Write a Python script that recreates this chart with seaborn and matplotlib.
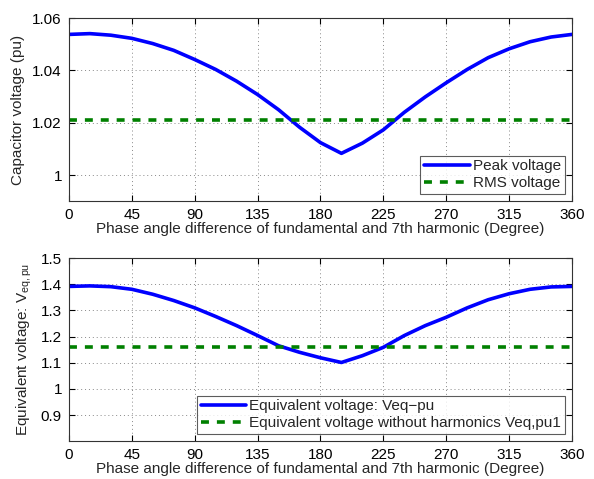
import numpy as np
import pandas as pd
import seaborn as sns
import matplotlib
matplotlib.use("Agg")
from matplotlib import pyplot as plt

# phase angle (deg) and values
angle = [0, 15, 30, 45, 60, 75, 90, 105, 120, 135, 150, 165, 180,
         195, 210, 225, 240, 255, 270, 285, 300, 315, 330, 345, 360]
peak_voltage = [1.0538, 1.0541, 1.0535, 1.0523, 1.0503, 1.0477, 1.0442, 1.0404,
                1.0359, 1.0308, 1.0250, 1.0183, 1.0124, 1.0083, 1.0122, 1.0173,
                1.0240, 1.0299, 1.0353, 1.0404, 1.0449, 1.0483, 1.0510, 1.0528, 1.0538]
rms_voltage = 1.021
veq_pu = [1.392, 1.394, 1.391, 1.381, 1.362, 1.338, 1.310, 1.277, 1.242, 1.204,
          1.165, 1.140, 1.119, 1.101, 1.127, 1.159, 1.204, 1.242, 1.274, 1.310,
          1.341, 1.364, 1.381, 1.390, 1.392]
veq_pu1 = 1.16

xticks = [0, 45, 90, 135, 180, 225, 270, 315, 360]
top_yticks = [1, 1.02, 1.04, 1.06]
top_ylabels = ["1", "1.02", "1.04", "1.06"]
bot_yticks = [0.9, 1.0, 1.1, 1.2, 1.3, 1.4, 1.5]
bot_ylabels = ["0.9", "1", "1.1", "1.2", "1.3", "1.4", "1.5"]

sns.set_style("ticks")
plt.rcParams["font.family"] = ["Liberation Sans", "DejaVu Sans"]
plt.rcParams["mathtext.fontset"] = "custom"
plt.rcParams["mathtext.rm"] = "Liberation Sans"
plt.rcParams["mathtext.it"] = "Liberation Sans:italic"

BLUE = (0, 0, 1)
GREEN = (0, 0.5, 0)
FS = 11

fig = plt.figure(figsize=(5.94, 4.79), dpi=100)
ax1 = fig.add_axes([0.116, 0.580, 0.847, 0.382])
ax2 = fig.add_axes([0.116, 0.079, 0.847, 0.382])

top = pd.DataFrame({"angle": angle, "peak": peak_voltage})
bot = pd.DataFrame({"angle": angle, "veq": veq_pu})


def style_axis(ax, yticks, ylabels, ylim, ylabel):
    ax.set_xlim(0, 360)
    ax.set_ylim(*ylim)
    ax.set_xticks(xticks)
    ax.set_xticklabels([str(t) for t in xticks], fontsize=FS)
    ax.set_yticks(yticks)
    ax.set_yticklabels(ylabels, fontsize=FS)
    ax.grid(True, linestyle=(0, (1, 3)), color="#888888", linewidth=0.7)
    ax.tick_params(direction="in", top=True, right=True, length=4, width=0.8,
                   colors="black", pad=5)
    for s in ax.spines.values():
        s.set_visible(True)
        s.set_linewidth(0.8)
        s.set_color("#333333")
    ax.set_xlabel("Phase angle difference of fundamental and 7th harmonic (Degree)",
                  fontsize=FS, labelpad=0)
    ax.set_ylabel(ylabel, fontsize=FS, labelpad=5)


def add_legend(ax):
    leg = ax.legend(loc="lower right", fontsize=FS, frameon=True, fancybox=False,
                    edgecolor="#333333", handlelength=3.0, handletextpad=0.2,
                    borderpad=0.25, labelspacing=0.2, borderaxespad=0.45)
    leg.get_frame().set_linewidth(0.8)


sns.lineplot(data=top, x="angle", y="peak", ax=ax1, color=BLUE, lw=2.6,
             label="Peak voltage", solid_joinstyle="round")
ax1.plot([angle[0], angle[-1]], [rms_voltage, rms_voltage], color=GREEN, lw=2.6,
         ls=(0, (2.2, 2.2)), label="RMS voltage")
style_axis(ax1, top_yticks, top_ylabels, (0.99, 1.06), "Capacitor voltage (pu)")
add_legend(ax1)

sns.lineplot(data=bot, x="angle", y="veq", ax=ax2, color=BLUE, lw=2.6,
             label="Equivalent voltage: Veq\u2212pu", solid_joinstyle="round")
ax2.plot([angle[0], angle[-1]], [veq_pu1, veq_pu1], color=GREEN, lw=2.6,
         ls=(0, (2.2, 2.2)), label="Equivalent voltage without harmonics Veq,pu1")
style_axis(ax2, bot_yticks, bot_ylabels, (0.8, 1.5),
           r"Equivalent voltage: V$_{\mathrm{eq,pu}}$")
add_legend(ax2)

fig.savefig("out.png", dpi=100, facecolor="white")
